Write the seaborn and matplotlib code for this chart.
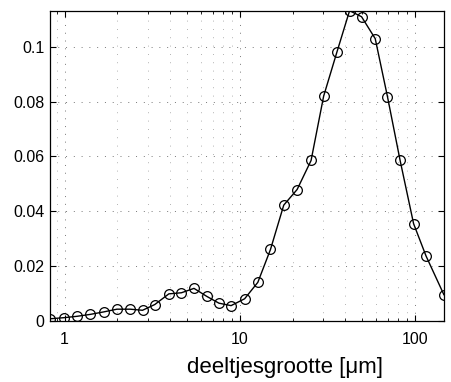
import matplotlib
matplotlib.use("Agg")
import matplotlib.pyplot as plt
import matplotlib.ticker as mticker
import numpy as np
import pandas as pd
import seaborn as sns

# particle size [um]
size_um = [0.827, 0.993, 1.178, 1.402, 1.671, 1.990, 2.368, 2.786, 3.273, 3.938,
           4.645, 5.478, 6.470, 7.600, 8.917, 10.65, 12.67, 14.96, 17.81, 21.23,
           25.50, 30.08, 35.85, 42.29, 49.49, 59.22, 69.57, 82.14, 98.06, 115.5,
           146.2]
# fraction
fraction = [0.0007, 0.0011, 0.0016, 0.0023, 0.0032, 0.0042, 0.0042, 0.0038, 0.0059, 0.0098,
            0.0102, 0.0118, 0.0089, 0.0064, 0.0055, 0.0080, 0.0140, 0.0260, 0.0422, 0.0479,
            0.0585, 0.0820, 0.0982, 0.1132, 0.1110, 0.1030, 0.0818, 0.0585, 0.0354, 0.0236,
            0.0094]

ytick_vals = [0, 0.02, 0.04, 0.06, 0.08, 0.1]
ytick_labels = ["0", "0.02", "0.04", "0.06", "0.08", "0.1"]
xtick_vals = [1, 10, 100]
xtick_labels = ["1", "10", "100"]
xlabel = "deeltjesgrootte [\u03bcm]"

df = pd.DataFrame({"size": size_um, "fraction": fraction})

sns.set_theme(style="white")
plt.rcParams["font.family"] = ["Liberation Sans", "DejaVu Sans"]

fig = plt.figure(figsize=(4.51, 3.82), dpi=100)
ax = fig.add_axes([0.111, 0.1605, 0.8735, 0.8115])

sns.lineplot(data=df, x="size", y="fraction", ax=ax, color="black",
             linewidth=1.0, marker="o", markersize=7,
             markerfacecolor="none", markeredgecolor="black",
             markeredgewidth=0.9)

ax.set_xscale("log")
ax.set_xlim(min(size_um), max(size_um))
ax.set_ylim(0, max(fraction))

ax.set_xticks(xtick_vals)
ax.set_xticklabels(xtick_labels)
ax.xaxis.set_minor_locator(mticker.LogLocator(base=10, subs=np.arange(2, 10)))
ax.xaxis.set_minor_formatter(mticker.NullFormatter())
ax.set_yticks(ytick_vals)
ax.set_yticklabels(ytick_labels)

ax.grid(True, which="major", axis="both", color="#777777",
        linestyle=(0, (1, 7)), linewidth=0.7)
ax.grid(True, which="minor", axis="x", color="#999999",
        linestyle=(0, (1, 9)), linewidth=0.6)

ax.tick_params(axis="both", which="both", direction="in",
               top=True, right=True, bottom=True, left=True,
               colors="black")
ax.tick_params(axis="both", which="major", length=4, width=0.8, labelsize=11.5)
ax.tick_params(axis="x", which="major", pad=8)
ax.tick_params(axis="y", which="major", pad=4)
ax.tick_params(axis="x", which="minor", length=2.5, width=0.6)

for s in ax.spines.values():
    s.set_color("black")
    s.set_linewidth(0.9)

ax.set_xlabel(xlabel, fontsize=16, color="black", labelpad=7)
ax.xaxis.label.set_x(0.596)
ax.set_ylabel("")

fig.savefig("out.png", dpi=100)
